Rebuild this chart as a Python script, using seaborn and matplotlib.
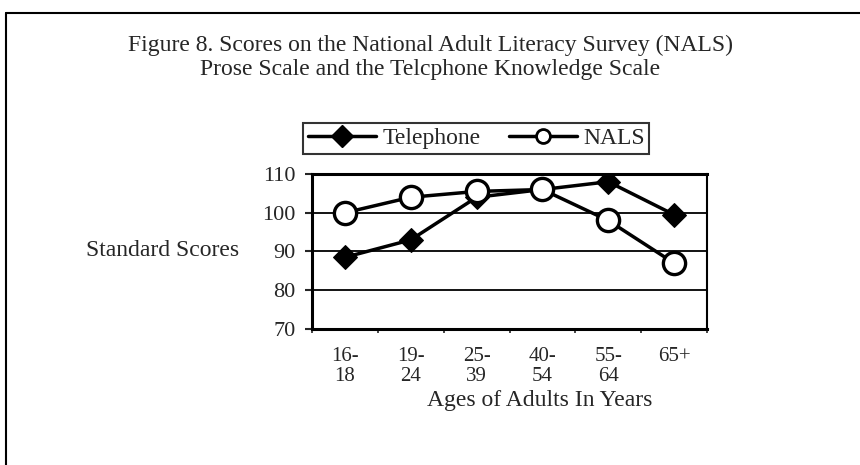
import matplotlib

matplotlib.use("Agg")
import matplotlib.pyplot as plt
import numpy as np
import pandas as pd
import seaborn as sns
from matplotlib.lines import Line2D

# data
age_groups = ["16-\n18", "19-\n24", "25-\n39", "40-\n54", "55-\n64", "65+"]
telephone = [88.5, 93, 104, 106, 108, 99.5]
nals = [100, 104, 105.5, 106, 98, 87]
series_names = ["Telephone", "NALS"]

df = pd.DataFrame(
    {
        "age": age_groups * 2,
        "score": telephone + nals,
        "series": [series_names[0]] * len(age_groups) + [series_names[1]] * len(age_groups),
    }
)

FS = 17
TICK_FS = 16

sns.set_style("white")
plt.rcParams["font.family"] = ["Liberation Serif", "DejaVu Serif"]
plt.rcParams["font.size"] = FS

fig = plt.figure(figsize=(8.6, 4.65), dpi=100)
ax = fig.add_axes([312 / 860, 1 - 329 / 465, 395 / 860, 155 / 465])

# horizontal grid lines
for yv in [80, 90, 100]:
    ax.axhline(yv, color="black", lw=1.3, zorder=1)

sns.lineplot(
    data=df[df["series"] == "Telephone"],
    x="age", y="score", color="black", lw=2.5, marker="D",
    markersize=12, markerfacecolor="black", markeredgecolor="black",
    ax=ax, label="Telephone", zorder=3,
)
sns.lineplot(
    data=df[df["series"] == "NALS"],
    x="age", y="score", color="black", lw=2.5, marker="o",
    markersize=16, markerfacecolor="white", markeredgecolor="black",
    markeredgewidth=2.4, ax=ax, label="NALS", zorder=4,
)

ax.set_xlim(-0.5, len(age_groups) - 0.5)
ax.set_ylim(70, 110)
ax.set_yticks([70, 80, 90, 100, 110])
ax.set_xticks(range(len(age_groups)))
ax.set_xticklabels(age_groups, linespacing=1.1)
ax.set_xticks(np.arange(-0.5, len(age_groups), 1.0), minor=True)
ax.tick_params(axis="x", which="major", length=0, pad=13, labelsize=15)
ax.tick_params(axis="x", which="minor", length=3, width=1.2, direction="out", bottom=True)
ax.tick_params(axis="y", length=5, width=1.5, direction="out", left=True, pad=7, labelsize=TICK_FS)

for side in ["left", "bottom", "top"]:
    ax.spines[side].set_linewidth(2.2)
    ax.spines[side].set_color("black")
ax.spines["right"].set_linewidth(1.5)
ax.spines["right"].set_color("black")

ax.set_xlabel("Ages of Adults In Years", fontsize=FS, va="center")
ax.xaxis.set_label_coords((540 - 312) / 395, -0.46)
ax.set_ylabel("Standard Scores", rotation=0, ha="center", va="center", fontsize=FS)
ax.yaxis.set_label_coords((163 - 312) / 395, (329 - 250) / 155)

ax.get_legend().remove()
handles = [
    Line2D([], [], color="black", lw=2.5, marker="D", markersize=11, markerfacecolor="black"),
    Line2D([], [], color="black", lw=2.5, marker="o", markersize=10,
           markerfacecolor="white", markeredgewidth=2),
]
leg = fig.legend(
    handles, series_names, ncol=2, loc="lower left",
    bbox_to_anchor=(303 / 860, 1 - 154 / 465), fontsize=FS,
    frameon=True, fancybox=False, edgecolor="black", borderpad=0.2,
    handlelength=2.9, handletextpad=0.25, columnspacing=1.2, borderaxespad=0,
)
leg.get_frame().set_linewidth(1.5)

fig.text(0.5, 1 - 45 / 465,
         "Figure 8. Scores on the National Adult Literacy Survey (NALS)",
         ha="center", va="center", fontsize=FS)
fig.text(0.5, 1 - 69 / 465,
         "Prose Scale and the Telcphone Knowledge Scale",
         ha="center", va="center", fontsize=FS)

# scanned page frame (top and left edges)
fig.add_artist(Line2D([6 / 860, 1], [1 - 13 / 465, 1 - 13 / 465], color="black", lw=1.5,
                      transform=fig.transFigure))
fig.add_artist(Line2D([6 / 860, 6 / 860], [0, 1 - 13 / 465], color="black", lw=1.5,
                      transform=fig.transFigure))

fig.savefig("out.png", dpi=100)
plt.close(fig)
